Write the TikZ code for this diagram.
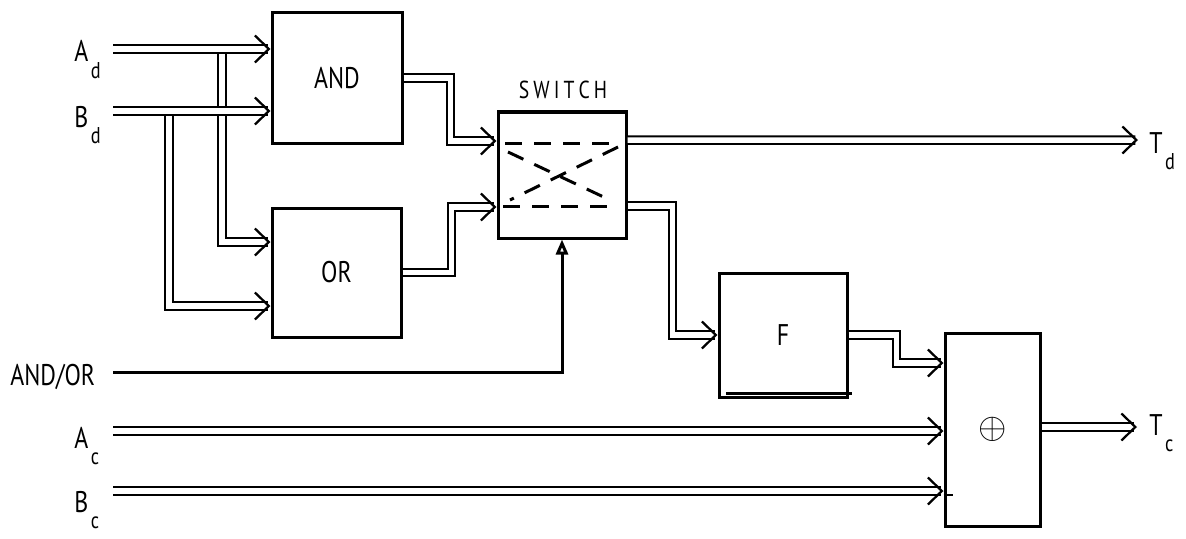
\documentclass[tikz,border=0pt]{standalone}
\usepackage{fontspec}
\setmainfont{PT Sans}[FakeStretch=0.8]
\usetikzlibrary{arrows.meta}
\newcommand{\lowsub}[1]{\kern0.5mm\raisebox{-3.3mm}{\fontsize{13}{13}\selectfont #1}}

\begin{document}
\begin{tikzpicture}[x=0.2mm, y=-0.2mm,
    blk/.style={draw, line width=0.6mm, inner sep=0pt, font=\fontsize{17}{17}\selectfont},
    bus/.style={line width=0.4mm, double, double distance=1.1mm, -{Straight Barb[length=2.8mm, width=5.4mm, line width=0.45mm]}},
    lbl/.style={inner sep=0pt, anchor=base west, font=\fontsize{17}{17}\selectfont},
    swline/.style={line width=0.6mm, dash pattern=on 3.4mm off 2.4mm}]
    \useasboundingbox (0,0) rectangle (1186,539);

    % blocks
    \node[blk, minimum width=26mm, minimum height=26mm] at (337,78) (and) {AND};
    \node[blk, minimum width=25.8mm, minimum height=25.8mm] at (336.5,272.5) (or) {OR};
    \node[blk, minimum width=25.6mm, minimum height=25.2mm] at (562,175) (switch) {};
    \node[blk, minimum width=25.6mm, minimum height=24.8mm] at (783,335) (f) {F};
    \node[blk, minimum width=19mm, minimum height=38.6mm] at (992.5,429.5) (xor) {\fontsize{22}{22}\selectfont$\oplus$};
    \node[anchor=base, inner sep=0pt, font=\fontsize{14}{14}\selectfont] at (563,98) (swname) {S\,W\,I\,T\,C\,H};

    % switch contacts
    \draw[swline] (505,143) -- (620,143);
    \draw[swline] (503,206) -- (617,206);
    \draw[swline] (508,152) -- (610,200);
    \draw[swline] (618,147) -- (510,200);
    \draw[line width=0.6mm] (726,393) -- (852,393);

    % labels
    \node[lbl] at (74,62) (adl) {A\lowsub{d}};
    \node[lbl] at (74,127) (bdl) {B\lowsub{d}};
    \node[lbl] at (10,385) (andorl) {AND/OR};
    \node[lbl] at (74,448) (acl) {A\lowsub{c}};
    \node[lbl] at (74,512) (bcl) {B\lowsub{c}};
    \node[lbl] at (1149,153) (tdl) {T\lowsub{d}};
    \node[lbl] at (1149,435) (tcl) {T\lowsub{c}};

    \coordinate (ad) at (113,49);
    \coordinate (bd) at (113,111);
    \coordinate (andor) at (113,372);
    \coordinate (ac) at (113,431);
    \coordinate (bc) at (113,491);
    \coordinate (adsplit) at (222,49);
    \coordinate (bdsplit) at (169,111);
    \coordinate (td) at (1138,140);
    \coordinate (tc) at (1137,427);

    % wires
    \draw[bus] (adsplit) |- ([yshift=6.1mm]or.west);
    \draw[bus] (bdsplit) |- ([yshift=-6.7mm]or.west);
    \draw[bus] (ad) -- (ad -| and.west);
    \draw[bus] (bd) -- (bd -| and.west);
    \draw[bus] (and.east) -- ++(47,0) |- ([yshift=6.8mm]switch.west);
    \draw[bus] (or.east) -- ++(49,0) |- ([yshift=-6.4mm]switch.west);
    \draw[bus] ([yshift=7mm]switch.east) -- (td);
    \draw[bus] ([yshift=-6.2mm]switch.east) -- ++(45,0) |- (f.west);
    \draw[bus] (f.east) -- ++(48,0) |- ([yshift=13.3mm]xor.west);
    \draw[bus] (ac) -- (ac -| xor.west);
    \draw[bus] (bc) -- (bc -| xor.west);
    \draw[line width=0.5mm] ([yshift=-0.8mm]bc -| xor.west) -- ++(9,0);
    \draw[bus] (xor.east |- tc) -- (tc);
    \draw[line width=0.6mm, -{Triangle[open, length=3mm, width=2.4mm]}] (andor) -| (switch.south);
\end{tikzpicture}
\end{document}
